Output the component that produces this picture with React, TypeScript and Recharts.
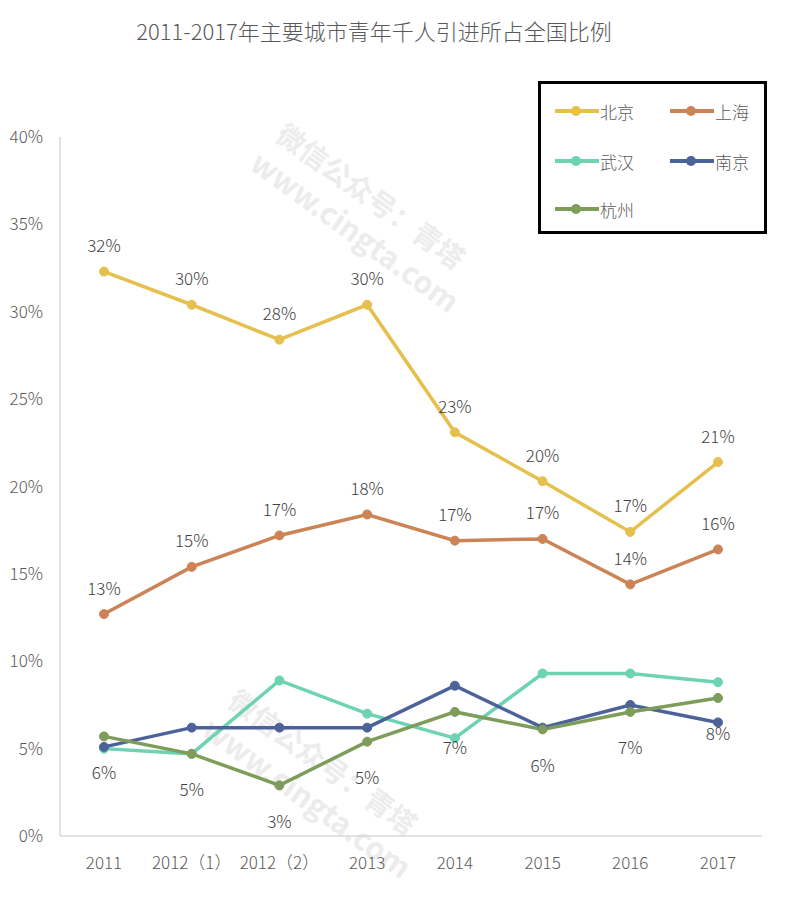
import React from 'react';
import { LineChart, Line, XAxis, YAxis, LabelList } from 'recharts';

const categories = ['2011', '2012（1）', '2012（2）', '2013', '2014', '2015', '2016', '2017'];
const beijing = [32.3, 30.4, 28.4, 30.4, 23.1, 20.3, 17.4, 21.4];
const shanghai = [12.7, 15.4, 17.2, 18.4, 16.9, 17.0, 14.4, 16.4];
const wuhan = [5.0, 4.7, 8.9, 7.0, 5.6, 9.3, 9.3, 8.8];
const nanjing = [5.1, 6.2, 6.2, 6.2, 8.6, 6.2, 7.5, 6.5];
const hangzhou = [5.7, 4.7, 2.9, 5.4, 7.1, 6.1, 7.1, 7.9];
const yTicks = [0, 5, 10, 15, 20, 25, 30, 35, 40];

const title = '2011-2017年主要城市青年千人引进所占全国比例';
const watermarkCn = '微信公众号：青塔';
const watermarkEn = 'www.cingta.com';

const series = [
  { key: 'bj', name: '北京', color: '#E6C04E', values: beijing, label: 'above' },
  { key: 'sh', name: '上海', color: '#CC8457', values: shanghai, label: 'above' },
  { key: 'wh', name: '武汉', color: '#6DD3B2', values: wuhan, label: 'none' },
  { key: 'nj', name: '南京', color: '#4B6399', values: nanjing, label: 'none' },
  { key: 'hz', name: '杭州', color: '#7E9C5A', values: hangzhou, label: 'below' },
];

const data = categories.map((c, i) => {
  const row: any = { cat: c };
  series.forEach((s) => {
    row[s.key] = s.values[i];
  });
  return row;
});

const FONT = "'Noto Sans CJK SC', 'Open Sans', sans-serif";
const WEIGHT = 300;

const makeLabel = (pos: string) => (props: any) => {
  const { x, y, value } = props;
  const dy = pos === 'above' ? -27 : 35;
  return (
    <text
      x={x}
      y={y + dy}
      textAnchor="middle"
      dominantBaseline="central"
      fontSize={17}
      fontWeight={WEIGHT}
      fill="#404040"
      fontFamily={FONT}
    >
      {Math.round(value)}%
    </text>
  );
};

const LegendBox = () => {
  const positions = [
    { left: 14, top: 27 },
    { left: 129, top: 27 },
    { left: 14, top: 77 },
    { left: 129, top: 77 },
    { left: 14, top: 125 },
  ];
  return (
    <div
      style={{
        position: 'absolute',
        left: 530,
        top: 73,
        width: 229,
        height: 153,
        border: '3px solid #000',
        boxSizing: 'border-box',
        background: '#fff',
      }}
    >
      {series.map((s, i) => (
        <div
          key={s.key}
          style={{
            position: 'absolute',
            left: positions[i].left,
            top: positions[i].top - 14,
            height: 28,
            display: 'flex',
            alignItems: 'center',
          }}
        >
          <svg width={44} height={12}>
            <line x1={0} y1={6} x2={44} y2={6} stroke={s.color} strokeWidth={4} />
            <circle cx={21} cy={6} r={5} fill={s.color} />
          </svg>
          <span style={{ fontSize: 17, fontWeight: WEIGHT, color: '#595959', fontFamily: FONT, marginLeft: 1 }}>
            {s.name}
          </span>
        </div>
      ))}
    </div>
  );
};

export default function App() {
  const W = 780;
  const H = 889;
  return (
    <div style={{ position: 'relative', width: W, height: H, background: '#fff' }}>
      <svg width={W} height={H} style={{ position: 'absolute', left: 0, top: 0, pointerEvents: 'none' }}>
        <text
          x={366}
          y={22}
          textAnchor="middle"
          dominantBaseline="central"
          fontSize={22}
          fontWeight={WEIGHT}
          fill="#595959"
          fontFamily={FONT}
        >
          {title}
        </text>
        {[
          { dx: 0, dy: 0 },
          { dx: -48, dy: 566 },
        ].map((o, i) => (
          <g key={i} fill="#ececec" fontFamily={FONT} fontWeight="bold">
            <text x={266 + o.dx} y={131 + o.dy} fontSize={28} transform={`rotate(36 ${266 + o.dx} ${131 + o.dy})`}>
              {watermarkCn}
            </text>
            <text x={240 + o.dx} y={160 + o.dy} fontSize={30} transform={`rotate(36 ${240 + o.dx} ${160 + o.dy})`}>
              {watermarkEn}
            </text>
          </g>
        ))}
      </svg>
      <div style={{ position: 'absolute', left: 0, top: 0 }}>
        <LineChart width={W} height={H} data={data} margin={{ top: 129, right: 26, bottom: 0, left: 0 }}>
          <XAxis
            dataKey="cat"
            height={61}
            padding={{ left: 44, right: 44 }}
            axisLine={{ stroke: '#d9d9d9', strokeWidth: 1.5 }}
            tickLine={false}
            tickSize={0}
            tickMargin={21}
            interval={0}
            tick={{ fontSize: 17, fontWeight: WEIGHT, fill: '#595959', fontFamily: FONT }}
          />
          <YAxis
            width={52}
            domain={[0, 40]}
            ticks={yTicks}
            interval={0}
            axisLine={{ stroke: '#d9d9d9', strokeWidth: 1.5 }}
            tickLine={false}
            tickSize={0}
            tickMargin={17}
            tickFormatter={(v: number) => `${v}%`}
            tick={{ fontSize: 17, fontWeight: WEIGHT, fill: '#595959', fontFamily: FONT }}
          />
          {series.map((s) => (
            <Line
              key={s.key}
              type="linear"
              dataKey={s.key}
              name={s.name}
              stroke={s.color}
              strokeWidth={3.5}
              dot={{ r: 4.5, fill: s.color, stroke: s.color, strokeWidth: 1 }}
              activeDot={false}
              isAnimationActive={false}
            >
              {s.label !== 'none' && <LabelList dataKey={s.key} content={makeLabel(s.label)} />}
            </Line>
          ))}
        </LineChart>
      </div>
      <LegendBox />
    </div>
  );
}
